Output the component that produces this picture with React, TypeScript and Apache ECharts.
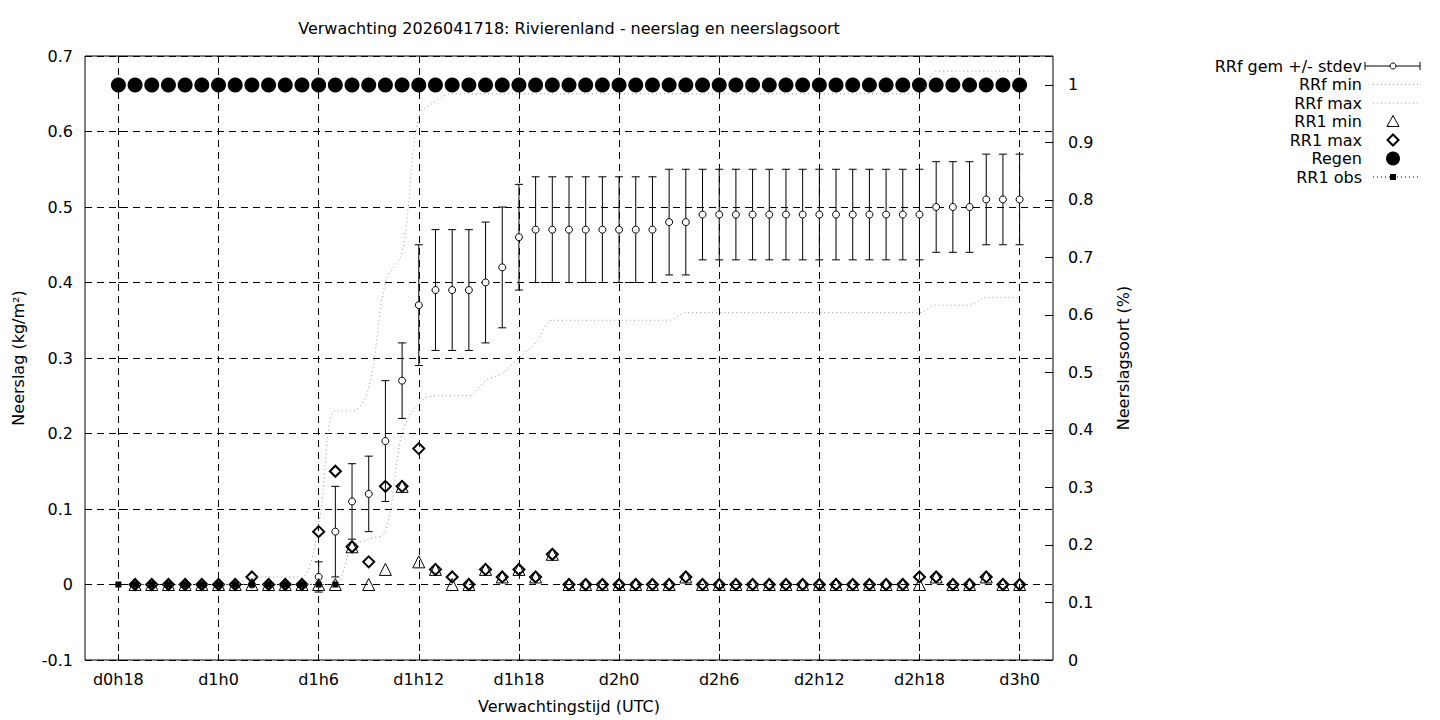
import React, { useEffect, useRef } from "react";
import * as echarts from "echarts";

const TITLE = "Verwachting 2026041718: Rivierenland - neerslag en neerslagsoort";

const hours = [0, 1, 2, 3, 4, 5, 6, 7, 8, 9, 10, 11, 12, 13, 14, 15, 16, 17, 18, 19, 20, 21, 22, 23, 24, 25, 26, 27, 28, 29, 30, 31, 32, 33, 34, 35, 36, 37, 38, 39, 40, 41, 42, 43, 44, 45, 46, 47, 48, 49, 50, 51, 52, 53, 54];

const tickHours = [0, 6, 12, 18, 24, 30, 36, 42, 48, 54];
const tickLabels = ["d0h18", "d1h0", "d1h6", "d1h12", "d1h18", "d2h0", "d2h6", "d2h12", "d2h18", "d3h0"];
const rightTicks = [0, 0.1, 0.2, 0.3, 0.4, 0.5, 0.6, 0.7, 0.8, 0.9, 1];

// RRf gemiddelde (cumulatief) en standaardafwijking
const rrfMean = [null,
  0, 0, 0, 0, 0, 0, 0, 0, 0, 0, 0,
  0.01, 0.07, 0.11, 0.12, 0.19, 0.27, 0.37, 0.39, 0.39, 0.39, 0.40, 0.42, 0.46,
  0.47, 0.47, 0.47, 0.47, 0.47, 0.47, 0.47, 0.47,
  0.48, 0.48,
  0.49, 0.49, 0.49, 0.49, 0.49, 0.49, 0.49, 0.49, 0.49, 0.49, 0.49, 0.49, 0.49, 0.49,
  0.50, 0.50, 0.50,
  0.51, 0.51, 0.51];
const rrfStdev = [null,
  0, 0, 0, 0, 0, 0, 0, 0, 0, 0, 0,
  0.02, 0.06, 0.05, 0.05, 0.08, 0.05, 0.08, 0.08, 0.08, 0.08, 0.08, 0.08, 0.07,
  0.07, 0.07, 0.07, 0.07, 0.07, 0.07, 0.07, 0.07,
  0.07, 0.07,
  0.06, 0.06, 0.06, 0.06, 0.06, 0.06, 0.06, 0.06, 0.06, 0.06, 0.06, 0.06, 0.06, 0.06,
  0.06, 0.06, 0.06,
  0.06, 0.06, 0.06];
const rrfMin = [null,
  0, 0, 0, 0, 0, 0, 0, 0, 0, 0, 0, 0, 0,
  0.05, 0.06, 0.07, 0.20, 0.24, 0.25, 0.25, 0.25, 0.27, 0.28, 0.30, 0.32,
  0.35, 0.35, 0.35, 0.35, 0.35, 0.35, 0.35, 0.35,
  0.36, 0.36, 0.36, 0.36, 0.36, 0.36, 0.36, 0.36, 0.36, 0.36, 0.36, 0.36, 0.36, 0.36, 0.36,
  0.37, 0.37, 0.37,
  0.38, 0.38, 0.38];
const rrfMax = [null,
  0, 0, 0, 0, 0, 0, 0,
  0.01, 0.01, 0.01, 0.01,
  0.08, 0.23, 0.23, 0.26, 0.40, 0.44, 0.62, 0.64,
  0.65, 0.65, 0.65, 0.65, 0.65, 0.65, 0.65, 0.65, 0.65, 0.65, 0.65, 0.65, 0.65, 0.65, 0.65,
  0.65, 0.65, 0.65, 0.65, 0.65, 0.65, 0.65, 0.65, 0.65, 0.65, 0.65, 0.65, 0.65, 0.65,
  0.68, 0.68, 0.68, 0.68, 0.68, 0.68];
const rr1Min = [null,
  0, 0, 0, 0, 0, 0, 0, 0, 0, 0, 0, 0, 0,
  0.05, 0, 0.02, 0.13, 0.03, 0.02, 0, 0, 0.02, 0.01, 0.02, 0.01, 0.04,
  0, 0, 0, 0, 0, 0, 0,
  0.01,
  0, 0, 0, 0, 0, 0, 0, 0, 0, 0, 0, 0, 0, 0,
  0.01, 0, 0, 0.01, 0, 0];
const rr1Max = [null,
  0, 0, 0, 0, 0, 0, 0,
  0.01, 0, 0, 0,
  0.07, 0.15, 0.05, 0.03, 0.13, 0.13, 0.18, 0.02, 0.01, 0, 0.02, 0.01, 0.02, 0.01, 0.04,
  0, 0, 0, 0, 0, 0, 0,
  0.01,
  0, 0, 0, 0, 0, 0, 0, 0, 0, 0, 0, 0, 0,
  0.01, 0.01, 0, 0, 0.01, 0, 0];
const regen = [1, 1, 1, 1, 1, 1, 1, 1, 1, 1, 1, 1, 1, 1, 1, 1, 1, 1, 1, 1, 1, 1, 1, 1, 1, 1, 1, 1, 1, 1, 1, 1, 1, 1, 1, 1, 1, 1, 1, 1, 1, 1, 1, 1, 1, 1, 1, 1, 1, 1, 1, 1, 1, 1, 1];
const rr1Obs = [0, 0, 0, 0, 0, 0, 0, 0, 0, 0, 0, 0, 0, 0];

const legendNames = ["RRf gem +/- stdev", "RRf min", "RRf max", "RR1 min", "RR1 max", "Regen", "RR1 obs"];

const FONT = '"DejaVu Sans", sans-serif';
const FS = 16;

function pairs(arr: (number | null)[]) {
  const out: number[][] = [];
  arr.forEach((v, i) => {
    if (v !== null && v !== undefined) out.push([hours[i], v]);
  });
  return out;
}

function buildLegend() {
  const els: any[] = [];
  const textX = 1362;
  const y0 = 66;
  const dy = 18.5;
  const sx = 1393;
  legendNames.forEach((name, i) => {
    const y = y0 + i * dy;
    els.push({
      type: "text",
      x: textX,
      y,
      style: { text: name, fill: "#000", font: `${FS}px ${FONT}`, textAlign: "right", textVerticalAlign: "middle", align: "right", verticalAlign: "middle" },
    });
  });
  const st = { stroke: "#000", lineWidth: 1, fill: "none" };
  // errorbar sample
  let y = y0;
  els.push({ type: "line", shape: { x1: 1365, y1: y, x2: 1420, y2: y }, style: st });
  els.push({ type: "line", shape: { x1: 1365, y1: y - 4, x2: 1365, y2: y + 4 }, style: st });
  els.push({ type: "line", shape: { x1: 1420, y1: y - 4, x2: 1420, y2: y + 4 }, style: st });
  els.push({ type: "circle", shape: { cx: sx, cy: y, r: 3 }, style: { fill: "#fff", stroke: "#000", lineWidth: 1 } });
  // min / max dotted
  for (const k of [1, 2]) {
    y = y0 + k * dy;
    els.push({ type: "line", shape: { x1: 1373, y1: y, x2: 1420, y2: y }, style: { stroke: "#999", lineWidth: 1, lineDash: [1, 3] } });
  }
  // triangle
  y = y0 + 3 * dy;
  els.push({ type: "polygon", shape: { points: [[sx, y - 6], [sx - 6, y + 5], [sx + 6, y + 5]] }, style: st });
  // diamond
  y = y0 + 4 * dy;
  els.push({ type: "polygon", shape: { points: [[sx, y - 5.5], [sx + 5.5, y], [sx, y + 5.5], [sx - 5.5, y]] }, style: { stroke: "#000", lineWidth: 2, fill: "none" } });
  // regen
  y = y0 + 5 * dy;
  els.push({ type: "circle", shape: { cx: sx, cy: y, r: 7 }, style: { fill: "#000" } });
  // obs
  y = y0 + 6 * dy;
  els.push({ type: "line", shape: { x1: 1373, y1: y, x2: 1420, y2: y }, style: { stroke: "#000", lineWidth: 1, lineDash: [1, 3] } });
  els.push({ type: "rect", shape: { x: sx - 3, y: y - 3, width: 6, height: 6 }, style: { fill: "#000" } });
  return els;
}

export default function App() {
  const ref = useRef<HTMLDivElement>(null);
  useEffect(() => {
    if (!ref.current) return;
    const chart = echarts.init(ref.current, null, { renderer: "svg" });
    const errData: number[][] = [];
    hours.forEach((h, i) => {
      const m = rrfMean[i];
      const s = rrfStdev[i];
      if (m !== null && s !== null) errData.push([h, m - s, m + s]);
    });
    const labelFor = (v: number) => {
      const idx = tickHours.indexOf(Math.round(v));
      return idx >= 0 ? tickLabels[idx] : "";
    };
    const option: any = {
      animation: false,
      backgroundColor: "#fff",
      textStyle: { fontFamily: FONT, color: "#000" },
      title: {
        text: TITLE,
        left: 569,
        top: 20,
        padding: 0,
        textAlign: "center",
        textStyle: { fontSize: FS, fontWeight: "normal", color: "#000", fontFamily: FONT },
      },
      grid: {
        left: 85,
        right: 387,
        top: 56,
        bottom: 60,
        show: true,
        borderColor: "#000",
        borderWidth: 1,
        backgroundColor: "transparent",
      },
      xAxis: {
        type: "value",
        min: -2,
        max: 56,
        name: "Verwachtingstijd (UTC)",
        nameLocation: "middle",
        nameGap: 38,
        nameTextStyle: { fontSize: FS, color: "#000", fontFamily: FONT },
        axisLine: { show: false, onZero: false },
        axisTick: { show: true, inside: true, length: 6, customValues: tickHours, lineStyle: { color: "#000" } },
        axisLabel: { customValues: tickHours, formatter: labelFor, fontSize: FS, color: "#000", margin: 11, fontFamily: FONT },
        splitLine: { show: true, lineStyle: { color: "#000", width: 1, type: [7, 5] } },
      },
      yAxis: [
        {
          type: "value",
          min: -0.1,
          max: 0.7,
          interval: 0.1,
          name: "Neerslag (kg/m²)",
          nameLocation: "middle",
          nameGap: 59,
          nameRotate: 90,
          nameTextStyle: { fontSize: FS, color: "#000", fontFamily: FONT },
          axisLine: { show: false },
          axisTick: { show: true, inside: true, length: 6, lineStyle: { color: "#000" } },
          axisLabel: { fontSize: FS, color: "#000", margin: 12, fontFamily: FONT },
          splitLine: { show: true, lineStyle: { color: "#000", width: 1, type: [7, 5] } },
        },
        {
          type: "value",
          position: "right",
          min: 0,
          max: 1.0504,
          name: "Neerslagsoort (%)",
          nameLocation: "middle",
          nameGap: 62,
          nameRotate: 90,
          nameTextStyle: { fontSize: FS, color: "#000", fontFamily: FONT },
          axisLine: { show: false },
          axisTick: { show: true, inside: true, length: 8, customValues: rightTicks, lineStyle: { color: "#000" } },
          axisLabel: { customValues: rightTicks, fontSize: FS, color: "#000", margin: 15, fontFamily: FONT },
          splitLine: { show: false },
        },
      ],
      graphic: buildLegend(),
      series: [
        {
          name: "RRf gem +/- stdev",
          type: "custom",
          xAxisIndex: 0,
          yAxisIndex: 0,
          data: errData,
          encode: { x: 0, y: [1, 2] },
          renderItem: (params: any, api: any) => {
            const x = api.value(0);
            const lo = api.coord([x, api.value(1)]);
            const hi = api.coord([x, api.value(2)]);
            const cap = 4;
            const style = { stroke: "#000", lineWidth: 1, fill: "none" };
            return {
              type: "group",
              children: [
                { type: "line", shape: { x1: lo[0], y1: lo[1], x2: hi[0], y2: hi[1] }, style },
                { type: "line", shape: { x1: lo[0] - cap, y1: lo[1], x2: lo[0] + cap, y2: lo[1] }, style },
                { type: "line", shape: { x1: hi[0] - cap, y1: hi[1], x2: hi[0] + cap, y2: hi[1] }, style },
              ],
            };
          },
        },
        {
          name: "RRf gem",
          type: "scatter",
          data: pairs(rrfMean),
          symbol: "circle",
          symbolSize: 7,
          itemStyle: { color: "#fff", borderColor: "#000", borderWidth: 1, opacity: 1 },
        },
        {
          name: "RRf min",
          type: "line",
          data: pairs(rrfMin),
          showSymbol: false,
          symbol: "none",
          smooth: 0.35,
          lineStyle: { color: "#999", width: 1, type: [1, 3] },
        },
        {
          name: "RRf max",
          type: "line",
          data: pairs(rrfMax),
          showSymbol: false,
          symbol: "none",
          smooth: 0.35,
          lineStyle: { color: "#999", width: 1, type: [1, 3] },
        },
        {
          name: "RR1 min",
          type: "scatter",
          data: pairs(rr1Min),
          symbol: "triangle",
          symbolSize: 12,
          itemStyle: { color: "rgba(0,0,0,0)", borderColor: "#000", borderWidth: 1, opacity: 1 },
        },
        {
          name: "RR1 max",
          type: "scatter",
          data: pairs(rr1Max),
          symbol: "diamond",
          symbolSize: 11,
          itemStyle: { color: "rgba(0,0,0,0)", borderColor: "#000", borderWidth: 2, opacity: 1 },
        },
        {
          name: "Regen",
          type: "scatter",
          yAxisIndex: 1,
          data: pairs(regen),
          symbol: "circle",
          symbolSize: 15,
          itemStyle: { color: "#000", opacity: 1 },
        },
        {
          name: "RR1 obs",
          type: "line",
          data: pairs(rr1Obs),
          symbol: "rect",
          symbolSize: 6,
          showAllSymbol: true,
          itemStyle: { color: "#000", opacity: 1 },
          lineStyle: { color: "#000", width: 1, type: [1, 3] },
        },
      ],
    };
    chart.setOption(option);
    return () => chart.dispose();
  }, []);
  return (
    <div
      ref={ref}
      style={{ position: "absolute", left: 0, top: 0, width: 1440, height: 720, background: "#fff" }}
    />
  );
}
